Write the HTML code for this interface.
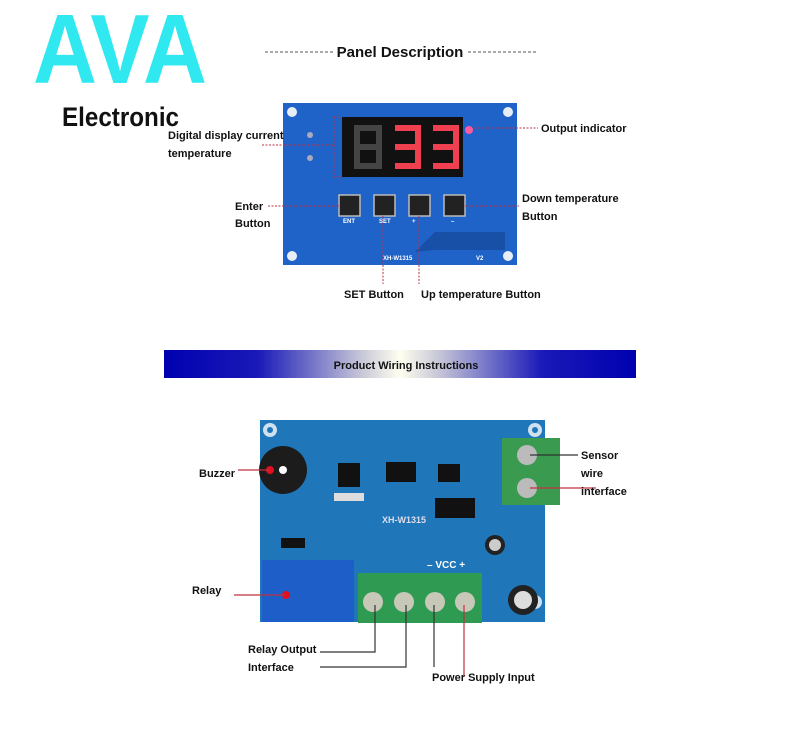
<!DOCTYPE html>
<html><head><meta charset="utf-8"><style>
body{margin:0;background:#fff;width:800px;height:730px;overflow:hidden;font-family:"Liberation Sans",sans-serif}
</style></head><body>
<svg width="800" height="730" viewBox="0 0 800 730" xmlns="http://www.w3.org/2000/svg" font-family="Liberation Sans, sans-serif">
<defs>
<linearGradient id="bn" x1="0" x2="1"><stop offset="0" stop-color="#0000b0"/><stop offset="0.2" stop-color="#1a1ab8"/><stop offset="0.42" stop-color="#c8c8d8"/><stop offset="0.5" stop-color="#fffff0"/><stop offset="0.58" stop-color="#c8c8d8"/><stop offset="0.8" stop-color="#1a1ab8"/><stop offset="1" stop-color="#0000b0"/></linearGradient>
</defs>
<text x="33" y="83" font-size="98" font-weight="bold" fill="#30e8f0" textLength="174" lengthAdjust="spacingAndGlyphs">AVA</text>
<text x="62" y="126" font-size="27" font-weight="bold" fill="#111" textLength="117" lengthAdjust="spacingAndGlyphs">Electronic</text>
<line x1="265" y1="52" x2="333" y2="52" stroke="#555" stroke-dasharray="3,2"/>
<line x1="468" y1="52" x2="536" y2="52" stroke="#555" stroke-dasharray="3,2"/>
<text x="400" y="57" font-size="15" font-weight="bold" text-anchor="middle" fill="#111">Panel Description</text>
<rect x="283" y="103" width="234" height="162" fill="#1f63c8"/>
<circle cx="292" cy="112" r="5" fill="#e8eef8"/><circle cx="508" cy="112" r="5" fill="#e8eef8"/>
<circle cx="292" cy="256" r="5" fill="#e8eef8"/><circle cx="508" cy="256" r="5" fill="#e8eef8"/>
<circle cx="310" cy="135" r="3" fill="#aab"/><circle cx="310" cy="158" r="3" fill="#aab"/>
<rect x="342" y="117" width="121" height="60" fill="#111"/>
<g fill="none" stroke-width="6" stroke-linecap="square">
<path d="M357 128h22v38h-22zM357 147h22" stroke="#444"/>
<path d="M398 128h20v38h-20M398 147h20" stroke="#f04050"/>
<path d="M436 128h20v38h-20M436 147h20" stroke="#f04050"/>
</g>
<circle cx="469" cy="130" r="4" fill="#ff5aa0"/>
<path d="M415 252l20-20h70v18h-70z" fill="#1850a8"/>
<g fill="#222" stroke="#bbb" stroke-width="1.5">
<rect x="339" y="195" width="21" height="21"/><rect x="374" y="195" width="21" height="21"/>
<rect x="409" y="195" width="21" height="21"/><rect x="444" y="195" width="21" height="21"/>
</g>
<g font-size="6" fill="#fff" font-weight="bold"><text x="343" y="223">ENT</text><text x="379" y="223">SET</text><text x="412" y="223">+</text><text x="451" y="223">–</text><text x="383" y="260">XH-W1315</text><text x="476" y="260">V2</text></g>
<g stroke="#c03040" stroke-dasharray="2,1.5" fill="none">
<path d="M262 145h72M334 117v60h8M334 117h8"/>
<path d="M474 128h64"/>
<path d="M268 206h71"/>
<path d="M465 206h54"/>
<path d="M383 216v68"/><path d="M419 216v68"/>
</g>
<g font-size="11" font-weight="bold" fill="#111">
<text x="168" y="139">Digital display current</text><text x="168" y="157">temperature</text>
<text x="541" y="132">Output indicator</text>
<text x="235" y="210">Enter</text><text x="235" y="227">Button</text>
<text x="522" y="202">Down temperature</text><text x="522" y="220">Button</text>
<text x="344" y="298">SET Button</text><text x="421" y="298">Up temperature Button</text>
</g>
<rect x="164" y="350" width="472" height="28" fill="url(#bn)"/>
<text x="406" y="369" font-size="11" font-weight="bold" text-anchor="middle" fill="#111">Product Wiring Instructions</text>
<rect x="260" y="420" width="285" height="202" fill="#1f76b8"/>
<g fill="#cfe0ee"><circle cx="270" cy="430" r="7"/><circle cx="535" cy="430" r="7"/><circle cx="270" cy="602" r="7"/><circle cx="535" cy="602" r="7"/></g>
<g fill="#1f76b8"><circle cx="270" cy="430" r="3"/><circle cx="535" cy="430" r="3"/><circle cx="270" cy="602" r="3"/><circle cx="535" cy="602" r="3"/></g>
<circle cx="283" cy="470" r="24" fill="#1c1c1c"/><circle cx="283" cy="470" r="4" fill="#fff"/>
<rect x="338" y="463" width="22" height="24" fill="#111"/>
<rect x="386" y="462" width="30" height="20" fill="#111"/>
<rect x="438" y="464" width="22" height="18" fill="#111"/>
<rect x="435" y="498" width="40" height="20" fill="#111"/>
<rect x="334" y="493" width="30" height="8" fill="#ddd"/>
<text x="382" y="523" font-size="9" font-weight="bold" fill="#dde">XH-W1315</text>
<rect x="281" y="538" width="24" height="10" fill="#111"/>
<circle cx="495" cy="545" r="10" fill="#222"/><circle cx="495" cy="545" r="6" fill="#ccc"/>
<circle cx="523" cy="600" r="15" fill="#222"/><circle cx="523" cy="600" r="9" fill="#ddd"/>
<rect x="262" y="560" width="92" height="62" fill="#1e5ec8"/>
<rect x="502" y="438" width="58" height="67" fill="#3a9a50"/>
<circle cx="527" cy="455" r="10" fill="#bbb"/><circle cx="527" cy="488" r="10" fill="#bbb"/>
<rect x="358" y="573" width="124" height="50" fill="#2f9a52"/>
<g fill="#c8c8b8"><circle cx="373" cy="602" r="10"/><circle cx="404" cy="602" r="10"/><circle cx="435" cy="602" r="10"/><circle cx="465" cy="602" r="10"/></g>
<text x="427" y="568" font-size="10" font-weight="bold" fill="#fff">–  VCC  +</text>
<circle cx="270" cy="470" r="4" fill="#e01020"/><circle cx="286" cy="595" r="4" fill="#e01020"/>
<g stroke="#c03040" fill="none" stroke-width="1.2">
<path d="M238 470h32"/><path d="M234 595h52"/><path d="M530 488h66"/><path d="M464 605v72"/>
</g>
<g stroke="#333" fill="none" stroke-width="1.2">
<path d="M530 455h48"/><path d="M375 605v47h-55"/><path d="M406 605v62h-86"/><path d="M434 605v62"/>
</g>
<g font-size="11" font-weight="bold" fill="#111">
<text x="199" y="477">Buzzer</text><text x="192" y="594">Relay</text>
<text x="581" y="459">Sensor</text><text x="581" y="477">wire</text><text x="581" y="495">interface</text>
<text x="248" y="653">Relay Output</text><text x="248" y="671">Interface</text>
<text x="432" y="681">Power Supply Input</text>
</g>
</svg>
</body></html>
